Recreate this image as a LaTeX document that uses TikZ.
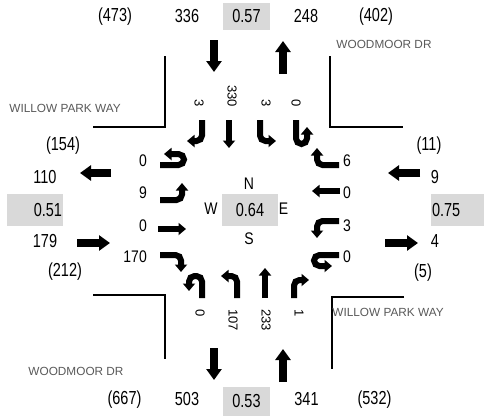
\documentclass[tikz,border=0pt]{standalone}
\usepackage{fontspec}
\setmainfont{Liberation Sans}
\usetikzlibrary{arrows.meta}
\definecolor{boxgray}{rgb}{0.85,0.85,0.85}
\definecolor{streetgray}{rgb}{0.35,0.35,0.35}

\begin{document}
\begin{tikzpicture}[x=1pt, y=-1pt,
		vol/.style={font=\fontsize{14.5}{16}\selectfont, yscale=1.3, inner sep=0pt},
		mov/.style={font=\fontsize{14}{16}\selectfont, yscale=1.2, inner sep=0pt},
		movv/.style={font=\fontsize{13}{15}\selectfont, rotate=-90, inner sep=0pt},
		factor/.style={vol, fill=boxgray, inner sep=1pt},
		street/.style={font=\fontsize{11.8}{14}\selectfont, text=streetgray, inner sep=0pt},
		bigarrow/.style={line width=7.5pt, -{Triangle[width=15pt,length=11pt]}},
		turn/.style={line width=6pt, rounded corners=5.5pt, -{Triangle[width=12pt,length=7.5pt]}},
		curb/.style={line width=1.5pt}]
			\useasboundingbox (0,0) rectangle (484,416);

			% Curb corners
			\draw[curb] (93,127) -- (165,127) -- (165,56);
			\draw[curb] (330,56) -- (330,127) -- (403,127);
			\draw[curb] (93,295) -- (165,295) -- (165,359);
			\draw[curb] (404,297) -- (332,297) -- (332,369);

			% Street names
			\node[street] (woodmoorN) at (384,44) {WOODMOOR DR};
			\node[street] (woodmoorS) at (76,371) {WOODMOOR DR};
			\node[street] (willowW) at (65,108) {WILLOW PARK WAY};
			\node[street] (willowE) at (388,312) {WILLOW PARK WAY};

			% North leg volumes
			\node[vol] (nPeakIn) at (115,16.5) {(473)};
			\node[vol] (nIn) at (187,16.5) {336};
			\node[factor, minimum width=47pt, minimum height=20.8pt] (nPhf) at (246.5,16.5) {0.57};
			\node[vol] (nOut) at (306,16.5) {248};
			\node[vol] (nPeakOut) at (376,16.5) {(402)};

			% South leg volumes
			\node[vol] (sPeakOut) at (124.5,399.5) {(667)};
			\node[vol] (sOut) at (187,399.5) {503};
			\node[factor, minimum width=47pt, minimum height=22.3pt] (sPhf) at (246.5,401.5) {0.53};
			\node[vol] (sIn) at (306.5,399.5) {341};
			\node[vol] (sPeakIn) at (374.5,399.5) {(532)};

			% West leg volumes
			\node[vol] (wPeakOut) at (63,146) {(154)};
			\node[vol] (wOut) at (45,177) {110};
			\node[factor, minimum width=56pt, minimum height=24.6pt, text width=54pt, align=right] (wPhf) at (35,210) {0.51};
			\node[vol] (wIn) at (45,241) {179};
			\node[vol] (wPeakIn) at (65,272) {(212)};

			% East leg volumes
			\node[vol] (ePeakIn) at (429,145.5) {(11)};
			\node[vol] (eIn) at (435,177) {9};
			\node[factor, minimum width=53pt, minimum height=24.6pt, text width=51pt, align=left] (ePhf) at (457.5,210) {0.75};
			\node[vol] (eOut) at (435,241) {4};
			\node[vol] (ePeakOut) at (423,273) {(5)};

			% Centre
			\node[factor, minimum width=56pt, minimum height=24.6pt] (iPhf) at (250,210) {0.64};
			\node[mov] (north) at (249,184) {N};
			\node[mov] (west) at (211,209) {W};
			\node[mov] (east) at (283.5,209) {E};
			\node[mov] (south) at (249,239) {S};

			% Approach and departure arrows
			\draw[bigarrow] (214,40) -- (214,72);
			\draw[bigarrow] (283,74) -- (283,41);
			\draw[bigarrow] (214,348) -- (214,380);
			\draw[bigarrow] (283,382) -- (283,349);
			\draw[bigarrow] (111,173) -- (80,173);
			\draw[bigarrow] (77,243) -- (110,243);
			\draw[bigarrow] (420,173) -- (388,173);
			\draw[bigarrow] (385,243) -- (418,243);

			% Turning counts
			\foreach \x/\v [count=\i] in {199/3,232/330,266/3,296/0}
			\node[movv, anchor=east] (nMov\i) at (\x,107) {\v};
			\foreach \x/\v [count=\i] in {200/0,233/107,266/233,299/1}
			\node[movv, anchor=west] (sMov\i) at (\x,309) {\v};
			\foreach \y/\v [count=\i] in {161/0,193/9,226/0,257/170}
			\node[mov, anchor=east] (wMov\i) at (147,\y) {\v};
			\foreach \y/\v [count=\i] in {161/6,193/0,226/3,257/0}
			\node[mov, anchor=west] (eMov\i) at (343,\y) {\v};

			% Southbound
			\draw[turn] (202,120) -- (202,141) -- (187,141);
			\draw[turn] (229,120) -- (229,148);
			\draw[turn] (260,120) -- (260,141) -- (276,141);
			\draw[turn] (296,120) -- (296,144) -- (307,144) -- (307,127);

			% Eastbound
			\draw[turn] (160,165) -- (184,165) -- (184,154) -- (164,154);
			\draw[turn] (160,200) -- (182,200) -- (182,183);
			\draw[turn] (158,229) -- (186,229);
			\draw[turn] (160,255) -- (181,255) -- (181,272);

			% Westbound
			\draw[turn] (339,165) -- (317,165) -- (317,148);
			\draw[turn] (340,191) -- (312,191);
			\draw[turn] (339,221) -- (317,221) -- (317,238);
			\draw[turn] (339,255) -- (314,255) -- (314,266) -- (332,266);

			% Northbound
			\draw[turn] (202,298) -- (202,276) -- (189,276) -- (189,291);
			\draw[turn] (237,298) -- (237,276) -- (221,276);
			\draw[turn] (265,298) -- (265,268);
			\draw[turn] (294,298) -- (294,280) -- (309,280);
		\end{tikzpicture}
\end{document}
